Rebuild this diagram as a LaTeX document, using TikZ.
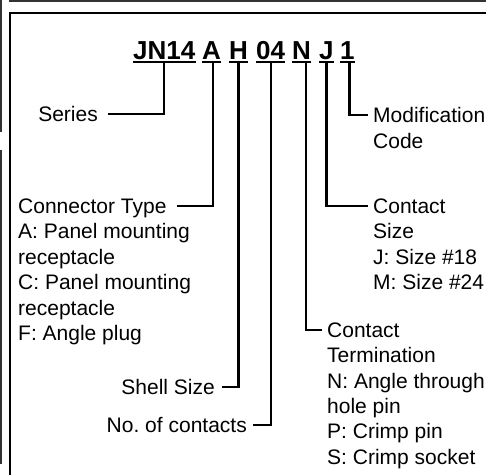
\documentclass[tikz,border=0pt]{standalone}
\usepackage{fontspec}
\setmainfont{Liberation Sans}
\usetikzlibrary{positioning}

\begin{document}
\begin{tikzpicture}[x=1pt, y=-1pt,
  code/.style={anchor=base west, inner sep=0pt, text depth=2.3pt, font=\fontsize{26}{30}\selectfont\bfseries},
  txt/.style={inner sep=0pt, align=left, font=\fontsize{21}{25.4}\selectfont},
  uline/.style={line width=2.5pt},
  lead/.style={line width=2.2pt},
  frame/.style={line width=2.6pt},
  edge/.style={line width=1.4pt, black!80}]
  \useasboundingbox (0,0) rectangle (486,474);
  \clip (0,0) rectangle (486,474);

  % Frame
  \draw[edge] (9,1) -- (490,1);
  \draw[edge] (1,-2) -- (1,132);
  \draw[edge] (1,150) -- (1,464);
  \draw[frame] (490,13) -- (10,13) -- (10,480);

  % Code
  \node[code] (jn) at (133,59.3) {JN14};
  \node[code] (ty) at (202,59.3) {A};
  \node[code] (sh) at (229,59.3) {H};
  \node[code] (nc) at (256,59.3) {04};
  \node[code] (te) at (292,59.3) {N};
  \node[code] (cs) at (319,59.3) {J};
  \node[code] (mc) at (340,59.3) {1};
  \foreach \n in {jn,ty,sh,nc,te,cs,mc}
    \draw[uline] (\n.south west) -- (\n.south east);

  % Labels
  \node[txt, anchor=north east] (series) at (98,106.5) {Series};
  \node[txt, anchor=north west] (ctype) at (18,198.5) {Connector Type};
  \node[txt, anchor=north west] (ctypelist) at (18,223.5) {A: Panel mounting\\receptacle\\C: Panel mounting\\receptacle\\F: Angle plug};
  \node[txt, anchor=north east] (shell) at (215,379.5) {Shell Size};
  \node[txt, anchor=north east] (contacts) at (247,417.5) {No.\ of contacts};
  \node[txt, anchor=north west] (term) at (327,322.5) {Contact\\Termination\\N: Angle through\\hole pin\\P: Crimp pin\\S: Crimp socket};
  \node[txt, anchor=north west] (csize) at (373,198.5) {Contact\\Size\\J: Size \#18\\M: Size \#24};
  \node[txt, anchor=north west] (modcode) at (373,107.5) {Modification\\Code};

  % Lines
  \draw[lead, shorten >=10pt] (jn.south) |- ([yshift=-7.5pt]series.north east);
  \draw[lead, shorten >=10pt] ([xshift=1.5pt]ty.south) |- ([yshift=-7.5pt]ctype.north east);
  \draw[lead, shorten >=7pt] (sh.south) |- ([yshift=-7.5pt]shell.north east);
  \draw[lead, shorten >=6pt] (nc.south) |- ([yshift=-7.5pt]contacts.north east);
  \draw[lead, shorten >=5pt] ([xshift=4.5pt]te.south) |- ([yshift=-7.5pt]term.north west);
  \draw[lead, shorten >=5pt] (cs.south) |- ([yshift=-7.5pt]csize.north west);
  \draw[lead, shorten >=5pt] ([xshift=2pt]mc.south) |- ([yshift=-7.5pt]modcode.north west);

\end{tikzpicture}
\end{document}
